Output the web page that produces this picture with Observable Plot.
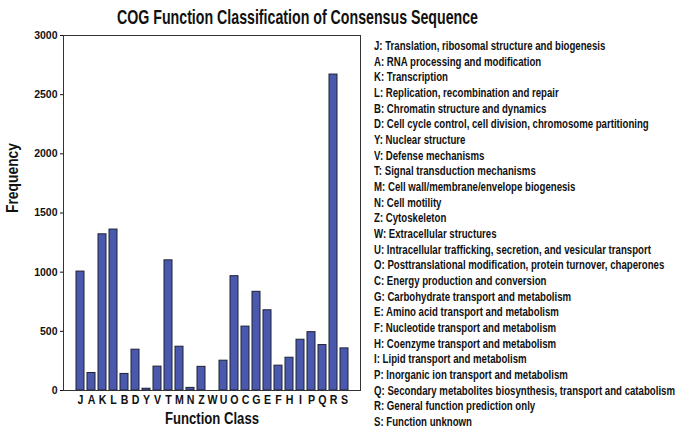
<!DOCTYPE html>
<html>
<head>
<meta charset="utf-8">
<script src="https://cdn.jsdelivr.net/npm/d3@7"></script>
<script src="https://cdn.jsdelivr.net/npm/@observablehq/plot@0.6"></script>
<style>
  html, body { margin: 0; padding: 0; background: #fff; }
  #wrap { position: relative; width: 678px; height: 430px; overflow: hidden;
          font-family: "Liberation Sans", Arial, sans-serif; }
  #title { position: absolute; left: 0; top: 5px; white-space: nowrap;
           font-weight: bold; font-size: 21px; color: #111; transform-origin: 0 0; }
  #legend { position: absolute; left: 374px; top: 38px; font-weight: bold; font-size: 13.5px; color: #111;
            transform-origin: 0 0; }
  #legend div { height: 15.68px; line-height: 15.68px; white-space: nowrap; }
  #chart { position: absolute; left: 0; top: 0; }
</style>
</head>
<body>
<div id="wrap">
  <div id="chart"></div>
  <div id="title">COG Function Classification of Consensus Sequence</div>
  <div id="legend"></div>
</div>
<script>
const codes = ["J","A","K","L","B","D","Y","V","T","M","N","Z","W","U","O","C","G","E","F","H","I","P","Q","R","S"];
const frequency = [1005,148,1320,1360,140,345,15,202,1100,370,22,200,0,252,966,540,834,678,210,277,429,493,384,2670,356];
const descriptions = [
  "Translation, ribosomal structure and biogenesis",
  "RNA processing and modification",
  "Transcription",
  "Replication, recombination and repair",
  "Chromatin structure and dynamics",
  "Cell cycle control, cell division, chromosome partitioning",
  "Nuclear structure",
  "Defense mechanisms",
  "Signal transduction mechanisms",
  "Cell wall/membrane/envelope biogenesis",
  "Cell motility",
  "Cytoskeleton",
  "Extracellular structures",
  "Intracellular trafficking, secretion, and vesicular transport",
  "Posttranslational modification, protein turnover, chaperones",
  "Energy production and conversion",
  "Carbohydrate transport and metabolism",
  "Amino acid transport and metabolism",
  "Nucleotide transport and metabolism",
  "Coenzyme transport and metabolism",
  "Lipid transport and metabolism",
  "Inorganic ion transport and metabolism",
  "Secondary metabolites biosynthesis, transport and catabolism",
  "General function prediction only",
  "Function unknown"
];
const yTicks = [0, 500, 1000, 1500, 2000, 2500, 3000];

const data = codes.map((c, i) => ({code: c, value: frequency[i]}));

const chart = Plot.plot({
  width: 678,
  height: 430,
  marginLeft: 63,
  marginRight: 318,
  marginTop: 35,
  marginBottom: 40,
  style: {fontFamily: "'Liberation Sans', Arial, sans-serif", fontWeight: "bold", color: "#111", background: "transparent"},
  x: {domain: codes, padding: 0.3, label: null},
  y: {domain: [0, 3000], label: null},
  marks: [
    Plot.barY(data, {x: "code", y: "value", fill: "#4a58ad", stroke: "#1e2233", strokeWidth: 1}),
    Plot.frame({stroke: "#333", strokeWidth: 1}),
    Plot.axisX({tickSize: 0, tickPadding: 5, fontSize: 12.5, fontWeight: "bold", label: null}),
    Plot.axisY({ticks: yTicks, tickFormat: d3.format("d"), tickSize: 3, tickPadding: 3, fontSize: 10.5, fontWeight: "bold", label: null}),
    Plot.text(["Frequency"], {frameAnchor: "left", dx: -51, rotate: -90, fontSize: 16, fontWeight: "bold"}),
    Plot.text(["Function Class"], {frameAnchor: "bottom", dy: 33, fontSize: 16, fontWeight: "bold"})
  ]
});
document.getElementById("chart").appendChild(chart);

// condense texts like the reference's narrow face
d3.select(chart).selectAll("text").each(function() {
  const t = this.textContent;
  if (t === "Function Class") { d3.select(this).attr("textLength", 94).attr("lengthAdjust", "spacingAndGlyphs"); }
  if (t === "Frequency") { d3.select(this).attr("textLength", 70).attr("lengthAdjust", "spacingAndGlyphs"); }
  if (codes.includes(t) && t.length === 1) {
    const tr = this.getAttribute("transform") || "";
    this.setAttribute("transform", tr + " scale(0.85,1)");
    const x = this.getAttribute("x");
    if (x) this.setAttribute("x", +x / 0.85);
  }
});

const legend = document.getElementById("legend");
codes.forEach((c, i) => {
  const d = document.createElement("div");
  d.textContent = c + ": " + descriptions[i];
  legend.appendChild(d);
});
// narrow the legend so the longest line spans about 301px, as in the reference
const longest = Math.max(...Array.from(legend.children).map(d => {
  const r = document.createRange(); r.selectNodeContents(d); return r.getBoundingClientRect().width;
}));
legend.style.transform = `scaleX(${301 / longest})`;

// title: spans x 117..478
const title = document.getElementById("title");
const tw = title.getBoundingClientRect().width;
title.style.transform = `translateX(117px) scaleX(${361 / tw})`;
</script>
</body>
</html>
